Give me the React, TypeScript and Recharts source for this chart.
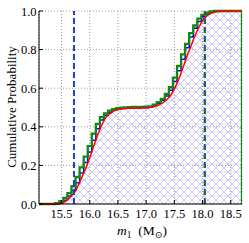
import React from 'react';
import { ComposedChart, Line, Area, XAxis, YAxis, CartesianGrid, ReferenceLine } from 'recharts';

const xTicks = [15.5, 16.0, 16.5, 17.0, 17.5, 18.0, 18.5];
const yTicks = [0, 0.2, 0.4, 0.6, 0.8, 1.0];
const xDomain = [15.1, 18.7];

const binEdges = [
  15.1, 15.172, 15.244, 15.316, 15.388, 15.46, 15.532, 15.604, 15.676, 15.748,
  15.82, 15.892, 15.964, 16.036, 16.108, 16.18, 16.252, 16.324, 16.396, 16.468,
  16.54, 16.612, 16.684, 16.756, 16.828, 16.9, 16.972, 17.044, 17.116, 17.188,
  17.26, 17.332, 17.404, 17.476, 17.548, 17.62, 17.692, 17.764, 17.836, 17.908,
  17.98, 18.052, 18.124, 18.196, 18.268, 18.34, 18.412, 18.484, 18.556, 18.628, 18.7,
];

const greenCdf = [
  0, 0, 0, 0, 0.004, 0.015, 0.032, 0.056, 0.092, 0.14,
  0.19, 0.245, 0.3, 0.365, 0.415, 0.45, 0.47, 0.484, 0.492, 0.496,
  0.499, 0.501, 0.502, 0.503, 0.503, 0.503, 0.504, 0.506, 0.515, 0.528,
  0.545, 0.57, 0.605, 0.655, 0.715, 0.775, 0.83, 0.885, 0.925, 0.96,
  0.98, 0.992, 0.998, 1, 1, 1, 1, 1, 1, 1,
];

const blueCdf = [
  0, 0, 0, 0, 0.001, 0.008, 0.02, 0.042, 0.07, 0.11,
  0.16, 0.215, 0.27, 0.33, 0.39, 0.435, 0.46, 0.476, 0.487, 0.492,
  0.495, 0.496, 0.497, 0.498, 0.498, 0.499, 0.499, 0.502, 0.51, 0.522,
  0.538, 0.56, 0.59, 0.635, 0.69, 0.75, 0.81, 0.865, 0.91, 0.945,
  0.97, 0.985, 0.993, 0.998, 1, 1, 1, 1, 1, 1,
];

const smoothX = [
  15.1, 15.4, 15.48, 15.55, 15.62, 15.7, 15.75, 15.8, 15.9, 16.0, 16.07, 16.13,
  16.2, 16.25, 16.3, 16.37, 16.45, 16.5, 16.6, 16.72, 16.9, 17.0, 17.1, 17.2,
  17.3, 17.38, 17.44, 17.5, 17.56, 17.62, 17.67, 17.73, 17.79, 17.85, 17.91,
  17.97, 18.03, 18.09, 18.15, 18.22, 18.3, 18.7,
];
const smoothY = [
  0, 0, 0.002, 0.01, 0.025, 0.05, 0.068, 0.1, 0.165, 0.24, 0.3, 0.35,
  0.4, 0.43, 0.455, 0.47, 0.485, 0.49, 0.494, 0.496, 0.498, 0.499, 0.502, 0.51,
  0.525, 0.545, 0.565, 0.595, 0.634, 0.68, 0.72, 0.77, 0.815, 0.86, 0.9,
  0.935, 0.962, 0.978, 0.988, 0.995, 1, 1,
];

const lowerBound = 15.72;
const upperBound = 18.04;

const buildStep = (vals: number[]) => {
  const pts = vals.map((v, i) => ({ x: binEdges[i], y: v }));
  const last = binEdges[binEdges.length - 1];
  pts.push({ x: last, y: vals[vals.length - 1] });
  pts.push({ x: last, y: 0 });
  return pts;
};

const greenData = buildStep(greenCdf);
const blueData = buildStep(blueCdf);
const smoothData = smoothX.map((x, i) => ({ x, y: smoothY[i] }));

const FONT = '"Liberation Serif", "DejaVu Serif", serif';

const XTick = (props: any) => {
  const { x, y, payload } = props;
  return (
    <g>
      <line x1={x} x2={x} y1={y} y2={y - 4} stroke="#000" strokeWidth={1} />
      <text x={x} y={y + 14} textAnchor="middle" fontFamily={FONT} fontSize={12.5} fill="#000">
        {Number(payload.value).toFixed(1)}
      </text>
    </g>
  );
};

const YTick = (props: any) => {
  const { x, y, payload } = props;
  return (
    <g>
      <line x1={x} x2={x + 4} y1={y} y2={y} stroke="#000" strokeWidth={1} />
      <text x={x - 2.5} y={y + 4.5} textAnchor="end" fontFamily={FONT} fontSize={12.5} fill="#000">
        {Number(payload.value).toFixed(1)}
      </text>
    </g>
  );
};

export default function App() {
  return (
    <div style={{ position: 'absolute', left: 0, top: 0, width: 249, height: 243, background: '#fff' }}>
      <svg width={0} height={0} style={{ position: 'absolute' }}>
        <defs>
          <pattern id="hatch" patternUnits="userSpaceOnUse" width={8} height={8}>
            <path d="M0,4 L8,4" stroke="#c6e6c6" strokeWidth={0.8} />
            <path d="M0,0 L8,8 M8,0 L0,8" stroke="#b8b0f6" strokeWidth={0.7} />
            <path d="M0,0 L8,8" stroke="#f0b4ea" strokeWidth={0.4} />
          </pattern>
        </defs>
      </svg>
      <ComposedChart width={249} height={243} margin={{ top: 11, right: 7, left: 0, bottom: 0 }}>
        <CartesianGrid stroke="#9a9a9a" strokeDasharray="1 2" />
        <XAxis
          dataKey="x"
          type="number"
          domain={xDomain}
          ticks={xTicks}
          allowDataOverflow
          height={39}
          tickSize={0}
          tickMargin={0}
          tick={<XTick />}
          axisLine={{ stroke: '#000' }}
          tickLine={false}
        />
        <XAxis
          xAxisId="top"
          orientation="top"
          dataKey="x"
          type="number"
          domain={xDomain}
          height={0}
          tick={false}
          tickLine={false}
          axisLine={{ stroke: '#000' }}
        />
        <YAxis
          type="number"
          domain={[0, 1]}
          ticks={yTicks}
          width={39}
          tickSize={0}
          tickMargin={0}
          tick={<YTick />}
          axisLine={{ stroke: '#000' }}
          tickLine={false}
        />
        <YAxis
          yAxisId="right"
          orientation="right"
          type="number"
          domain={[0, 1]}
          width={0}
          tick={false}
          tickLine={false}
          axisLine={{ stroke: '#000' }}
        />
        <Area
          data={smoothData}
          dataKey="y"
          type="monotone"
          stroke="none"
          fill="url(#hatch)"
          fillOpacity={1}
          isAnimationActive={false}
        />
        <Line
          data={blueData}
          dataKey="y"
          type="stepAfter"
          stroke="#0000ff"
          strokeWidth={1.5}
          dot={false}
          isAnimationActive={false}
        />
        <Line
          data={greenData}
          dataKey="y"
          type="stepAfter"
          stroke="#118811"
          strokeWidth={2.3}
          dot={false}
          isAnimationActive={false}
        />
        <Line
          data={smoothData}
          dataKey="y"
          type="monotone"
          stroke="#ff0000"
          strokeWidth={1.5}
          dot={false}
          isAnimationActive={false}
        />
        <ReferenceLine x={lowerBound} stroke="#1f3fd0" strokeWidth={2} strokeDasharray="6 3" />
        <ReferenceLine x={upperBound} stroke="#1f3fd0" strokeWidth={2} strokeDasharray="6 3" />
        <ReferenceLine x={upperBound} stroke="#1a6e2a" strokeWidth={2} strokeDasharray="4 5" />
      </ComposedChart>
      <svg width={249} height={243} style={{ position: 'absolute', left: 0, top: 0, pointerEvents: 'none' }}>
        <text
          transform="translate(16,107) rotate(-90)"
          textAnchor="middle"
          fontFamily={FONT}
          fontSize={13}
          fill="#000"
        >
          Cumulative Probability
        </text>
        <text x={142} y={235} textAnchor="middle" fontFamily={FONT} fontSize={13.5} fill="#000">
          <tspan fontStyle="italic">m</tspan>
          <tspan fontSize={9.5} dy={3}>1</tspan>
          <tspan dy={-3}>{'\u2002(M'}</tspan>
          <tspan fontSize={9.5} dy={3}>{'\u2299'}</tspan>
          <tspan dy={-3}>)</tspan>
        </text>
      </svg>
    </div>
  );
}
